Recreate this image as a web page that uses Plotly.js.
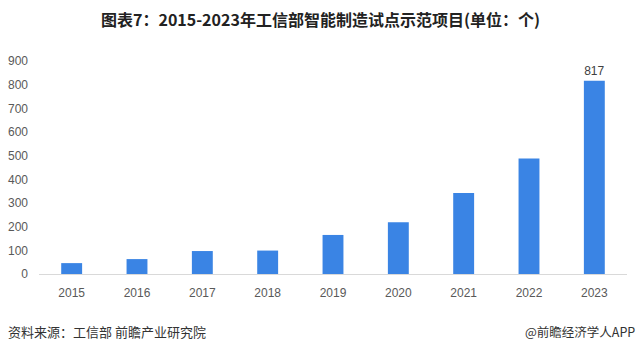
<!DOCTYPE html>
<html><head><meta charset="utf-8">
<script src="https://cdn.plot.ly/plotly-3.0.1.min.js"></script>
<style>html,body{margin:0;padding:0;background:#fff}#c{width:641px;height:353px}</style>
</head><body><div id="c"></div>
<script>
const years = ['2015','2016','2017','2018','2019','2020','2021','2022','2023'];
const projects = [46, 63, 97, 99, 165, 219, 342, 488, 817];
const labelText = ['', '', '', '', '', '', '', '', '817'];
const yTicks = [0,100,200,300,400,500,600,700,800,900];

const trace = {
  type: 'bar', x: years, y: projects,
  marker: {color: '#3a84e4'},
  text: labelText, textposition: 'outside',
  textfont: {family: 'Arial, Liberation Sans, sans-serif', size: 12, color: '#404040'},
  cliponaxis: false, hoverinfo: 'none'
};
const layout = {
  width: 641, height: 353,
  margin: {l: 39, r: 14, t: 61, b: 79},
  paper_bgcolor: '#fff', plot_bgcolor: '#fff',
  bargap: 0.68,
  showlegend: false,
  title: {text: '<b>图表7：2015-2023年工信部智能制造试点示范项目(单位：个)</b>',
    font: {family: 'Noto Sans CJK SC, sans-serif', size: 16, color: '#222'},
    x: 0.5, xanchor: 'center', y: 0.943, yanchor: 'middle'},
  xaxis: {type: 'category', showgrid: false, showline: true, linecolor: '#d9d9d9', linewidth: 1,
    ticks: '', ticklabelstandoff: 8,
    tickfont: {family: 'Arial, Liberation Sans, sans-serif', size: 12, color: '#595959'}},
  yaxis: {range: [0, 900], tickvals: yTicks, showgrid: false, zeroline: false, showline: false,
    ticks: '', ticklabelstandoff: 10,
    tickfont: {family: 'Arial, Liberation Sans, sans-serif', size: 12, color: '#595959'}},
  annotations: [
    {text: '资料来源：工信部 前瞻产业研究院', xref: 'paper', yref: 'paper', x: -0.056, xanchor: 'left',
     y: -0.27, yanchor: 'middle', showarrow: false,
     font: {family: 'Noto Sans CJK SC, sans-serif', size: 13, color: '#333'}},
    {text: '@前瞻经济学人APP', xref: 'paper', yref: 'paper', x: 1.017, xanchor: 'right',
     y: -0.27, yanchor: 'middle', showarrow: false,
     font: {family: 'Noto Sans CJK SC, sans-serif', size: 12.5, color: '#333'}}
  ]
};
Plotly.newPlot('c', [trace], layout, {displayModeBar: false, staticPlot: true});
</script></body></html>
